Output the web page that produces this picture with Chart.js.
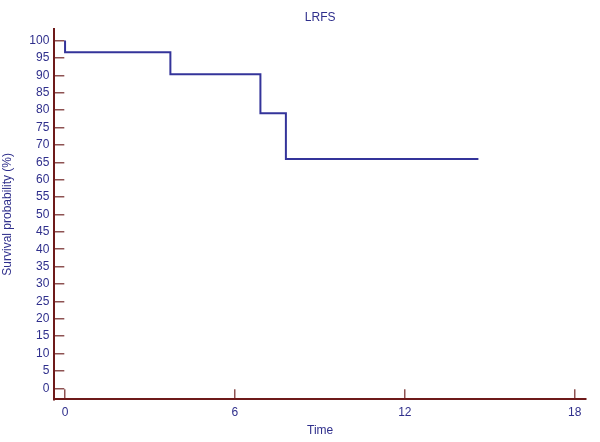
<!DOCTYPE html>
<html>
<head>
<meta charset="utf-8">
<script src="https://cdn.jsdelivr.net/npm/chart.js@4"></script>
<style>
  body { margin: 0; background: #fff; }
  #wrap { width: 600px; height: 442px; }
</style>
</head>
<body>
<div id="wrap"><canvas id="km" width="600" height="442"></canvas></div>
<script>
// Kaplan-Meier steps
const times = [0, 0, 3.72, 6.9, 7.8, 14.6]
const survival = [100, 96.6, 90.3, 79.1, 65.9, 65.9]

const xTicks = [0, 6, 12, 18]
const yTicks = [0, 5, 10, 15, 20, 25, 30, 35, 40, 45, 50, 55, 60, 65, 70, 75, 80, 85, 90, 95, 100]

const navy = '#2f2f8c'
const axisRed = '#6e1a1a'
const tickRed = '#8e5252'
const font = { family: 'Arial, "Liberation Sans", sans-serif', size: 12 }

const points = times.map((t, i) => ({ x: t, y: survival[i] }))

new Chart(document.getElementById('km'), {
  type: 'line',
  data: {
    datasets: [{
      label: 'LRFS',
      data: points,
      stepped: 'before',
      borderColor: '#34349a',
      borderWidth: 2,
      pointRadius: 0,
      fill: false
    }]
  },
  options: {
    responsive: false,
    animation: false,
    layout: { padding: { left: 0, right: 14, top: 0, bottom: 0 } },
    plugins: {
      legend: { display: false },
      tooltip: { enabled: false },
      title: {
        display: true,
        fullSize: false,  // centre over the plot, not the canvas
        text: 'LRFS',
        color: navy,
        font: { ...font, weight: 'normal' },
        padding: { top: 10, bottom: 5 }
      }
    },
    scales: {
      x: {
        type: 'linear',
        min: -0.38,
        max: 18.4,
        afterBuildTicks: s => { s.ticks = xTicks.map(v => ({ value: v })) },
        ticks: { color: navy, font: font, padding: 16, maxRotation: 0 },
        grid: { drawOnChartArea: false, tickLength: -10, color: tickRed, lineWidth: 1.5 },
        border: { color: axisRed, width: 2 },
        title: { display: true, text: 'Time', color: navy, font: font, padding: { top: 0, bottom: 4 } },
        afterFit: s => { s.height = 42.7 }
      },
      y: {
        min: -3.16,
        max: 103.2,
        afterBuildTicks: s => { s.ticks = yTicks.map(v => ({ value: v })) },
        ticks: { color: navy, font: font, padding: 15 },
        grid: { drawOnChartArea: false, tickLength: -10, color: tickRed, lineWidth: 1.5 },
        border: { color: axisRed, width: 2 },
        title: { display: true, text: 'Survival probability (%)', color: navy, font: font, padding: { top: 0, bottom: 3 } },
        afterFit: s => { s.width = 54.3 }
      }
    }
  }
})
</script>
</body>
</html>
